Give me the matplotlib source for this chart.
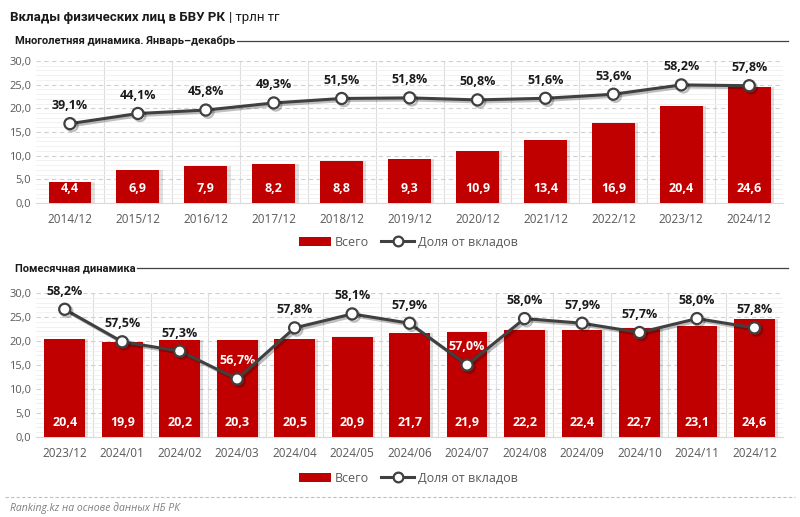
import matplotlib
matplotlib.use("Agg")
import matplotlib.pyplot as plt
import matplotlib.patheffects as pe
from matplotlib.lines import Line2D
from matplotlib.patches import Patch
from matplotlib.ticker import MultipleLocator, FuncFormatter

plt.rcParams['font.family'] = ['Open Sans', 'DejaVu Sans']

# --- data ---
years = ["2014/12", "2015/12", "2016/12", "2017/12", "2018/12", "2019/12",
         "2020/12", "2021/12", "2022/12", "2023/12", "2024/12"]
years_total = [4.4, 6.9, 7.9, 8.2, 8.8, 9.3, 10.9, 13.4, 16.9, 20.4, 24.6]
years_share = [39.1, 44.1, 45.8, 49.3, 51.5, 51.8, 50.8, 51.6, 53.6, 58.2, 57.8]

months = ["2023/12", "2024/01", "2024/02", "2024/03", "2024/04", "2024/05", "2024/06",
          "2024/07", "2024/08", "2024/09", "2024/10", "2024/11", "2024/12"]
months_total = [20.4, 19.9, 20.2, 20.3, 20.5, 20.9, 21.7, 21.9, 22.2, 22.4, 22.7, 23.1, 24.6]
months_share = [58.2, 57.5, 57.3, 56.7, 57.8, 58.1, 57.9, 57.0, 58.0, 57.9, 57.7, 58.0, 57.8]

RED = "#C00000"
LINE = "#404040"
GREY = "#595959"
TITLE_FONT = ['Roboto', 'DejaVu Sans']


def comma(v, nd=1):
    return f"{v:.{nd}f}".replace(".", ",")


def draw_panel(ax, cats, totals, shares, share_lim, bar_w, white_labels=()):
    x = list(range(len(cats)))
    ax.set_xlim(-0.5, len(cats) - 0.5)
    ax.set_ylim(0, 30)
    # shadow, then bars
    ax.bar([i + 0.05 for i in x], totals, width=bar_w, color="#000000", alpha=0.12, zorder=2)
    ax.bar(x, totals, width=bar_w, color=RED, zorder=3)
    for i, v in enumerate(totals):
        ax.annotate(comma(v), (i, 0), xytext=(0, 10.5), textcoords="offset points",
                    ha="center", va="center", color="white", fontsize=9,
                    fontweight="bold", zorder=6)

    ax.yaxis.set_major_locator(MultipleLocator(5))
    ax.yaxis.set_minor_locator(MultipleLocator(1))
    ax.yaxis.set_major_formatter(FuncFormatter(lambda v, p: comma(v)))
    ax.grid(axis="y", which="major", color="#D0D0D0", linestyle=(0, (4, 3)), linewidth=0.8, zorder=0)
    ax.grid(axis="y", which="minor", color="#EFEFEF", linestyle="-", linewidth=0.6, zorder=0)
    for b in range(len(cats) - 1):
        ax.axvline(b + 0.5, color="#DDDDDD", linewidth=0.8, zorder=0)
    ax.set_xticks(x)
    ax.set_xticklabels(cats)
    ax.tick_params(axis="both", which="both", length=0, colors=GREY, labelsize=8)
    ax.tick_params(axis="x", pad=7, labelsize=8.5)
    for s in ["top", "right", "left"]:
        ax.spines[s].set_visible(False)
    ax.spines["bottom"].set_color("#D9D9D9")

    ax2 = ax.twinx()
    ax2.set_ylim(*share_lim)
    ax2.set_yticks([])
    for s in ax2.spines.values():
        s.set_visible(False)
    ax2.plot(x, shares, color=LINE, linewidth=2.2, marker="o", markersize=8,
             markerfacecolor="white", markeredgecolor=LINE, markeredgewidth=1.6, zorder=5,
             path_effects=[pe.SimpleLineShadow(offset=(1.5, -1.5), alpha=0.25), pe.Normal()])
    for i, v in enumerate(shares):
        col = "white" if i in white_labels else "#1A1A1A"
        ax2.annotate(comma(v) + "%", (i, v), xytext=(0, 13), textcoords="offset points",
                     ha="center", va="center", fontsize=9, fontweight="bold", color=col)
    return ax2


fig = plt.figure(figsize=(8, 5.17), dpi=100)

ax_top = fig.add_axes([0.045, 0.6074, 0.934, 0.2747])
draw_panel(ax_top, years, years_total, years_share, (0, 70), 0.63)

ax_bot = fig.add_axes([0.045, 0.1547, 0.934, 0.2785])
draw_panel(ax_bot, months, months_total, months_share, (55.45, 58.55), 0.71, white_labels=(3, 7))

# legends
handles = [Patch(facecolor=RED, edgecolor="none"),
           Line2D([0], [0], color=LINE, linewidth=2.2, marker="o", markersize=7,
                  markerfacecolor="white", markeredgecolor=LINE, markeredgewidth=1.6)]
labels = ["Всего", "Доля от вкладов"]
for yy in (1 - 242 / 517, 1 - 478 / 517):
    fig.legend(handles, labels, loc="center", bbox_to_anchor=(0.51, yy), ncol=2,
               frameon=False, fontsize=9, handlelength=2.6, handletextpad=0.3,
               columnspacing=1.0, labelcolor=GREY)

# titles
t1 = fig.text(0.012, 1 - 18 / 517, "Вклады физических лиц в БВУ РК", fontsize=9.5,
              fontweight="bold", color="#1A1A1A", va="center", family=TITLE_FONT)
s1 = fig.text(0.019, 1 - 41 / 517, "Многолетняя динамика. Январь–декабрь", fontsize=8,
              fontweight="bold", color="#1A1A1A", va="center", family=TITLE_FONT)
s2 = fig.text(0.019, 1 - 268 / 517, "Помесячная динамика", fontsize=8,
              fontweight="bold", color="#1A1A1A", va="center", family=TITLE_FONT)
fig.canvas.draw()
r = fig.canvas.get_renderer()
bb = t1.get_window_extent(r)
fig.text(bb.x1 / fig.bbox.width + 0.005, 1 - 18 / 517, "| трлн тг", fontsize=9.5,
         color="#1A1A1A", va="center", family=TITLE_FONT)
for s, yy in ((s1, 1 - 41 / 517), (s2, 1 - 268 / 517)):
    bb = s.get_window_extent(r)
    fig.add_artist(Line2D([bb.x1 / fig.bbox.width + 0.002, 0.985], [yy, yy],
                          color="#404040", linewidth=0.9))

# footer
fig.add_artist(Line2D([0.006, 0.994], [1 - 497 / 517, 1 - 497 / 517], color="#BFBFBF",
                      linewidth=0.8, linestyle=(0, (3, 2))))
fig.text(0.012, 1 - 508 / 517, "Ranking.kz на основе данных НБ РК", fontsize=7.5,
         fontstyle="italic", color="#7F7F7F", va="center")

fig.savefig("out.png", dpi=100)
